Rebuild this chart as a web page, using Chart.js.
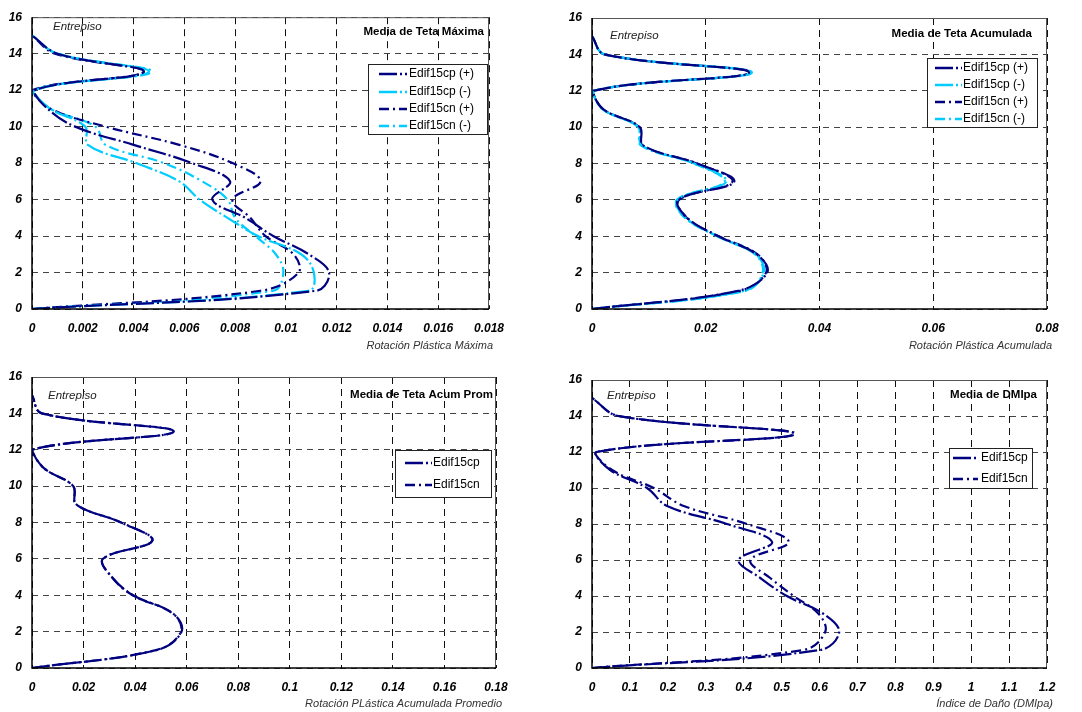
<!DOCTYPE html>
<html><head><meta charset="utf-8">
<script src="https://cdn.jsdelivr.net/npm/chart.js@4.4.1/dist/chart.umd.min.js"></script>
<style>
html,body{margin:0;padding:0;background:#fff;}
#wrap{position:relative;width:1082px;height:712px;overflow:hidden;}
canvas{position:absolute;}
</style></head>
<body><div id="wrap">
<canvas id="c1" width="540" height="356" style="left:0;top:0"></canvas>
<canvas id="c2" width="542" height="356" style="left:540px;top:0"></canvas>
<canvas id="c3" width="540" height="356" style="left:0;top:356px"></canvas>
<canvas id="c4" width="542" height="356" style="left:540px;top:356px"></canvas>
</div>
<script>
// ---- data ----
const stories = [0,1,2,3,4,5,6,7,8,9,10,11,12,13,14,15];
const yTicks = [0,2,4,6,8,10,12,14,16];

// Panel 1: Rotación Plástica Máxima
const tetaMax_cpPos = [0,0.0112,0.0117,0.0109,0.0095,0.0084,0.0071,0.0078,0.0063,0.0040,0.0017,0.0006,0.0001,0.0044,0.0010,0];
const tetaMax_cpNeg = [0,0.0109,0.0111,0.0106,0.0089,0.0077,0.0066,0.0058,0.0041,0.0022,0.0021,0.0007,0.0001,0.0046,0.0010,0];
const tetaMax_cnPos = [0,0.0090,0.0105,0.0103,0.0092,0.0086,0.0079,0.0090,0.0079,0.0058,0.0029,0.0007,0.0000,0.0044,0.0009,0];
const tetaMax_cnNeg = [0,0.0095,0.0099,0.0096,0.0088,0.0080,0.0077,0.0067,0.0052,0.0029,0.0025,0.0007,0.0000,0.0047,0.0010,0];
const xTicks1 = [0,0.002,0.004,0.006,0.008,0.01,0.012,0.014,0.016,0.018];

// Panel 2: Rotación Plástica Acumulada
const tetaAcum_cpPos = [0,0.0257,0.0308,0.0290,0.0222,0.0168,0.0152,0.0250,0.0185,0.0090,0.0084,0.0019,0.0003,0.0276,0.0022,0];
const tetaAcum_cpNeg = [0,0.0268,0.0302,0.0288,0.0220,0.0165,0.0150,0.0236,0.0180,0.0087,0.0082,0.0018,0.0003,0.0280,0.0022,0];
const tetaAcum_cnPos = [0,0.0260,0.0306,0.0291,0.0223,0.0167,0.0153,0.0247,0.0184,0.0089,0.0083,0.0019,0.0003,0.0277,0.0022,0];
const tetaAcum_cnNeg = [0,0.0270,0.0300,0.0287,0.0221,0.0164,0.0149,0.0233,0.0179,0.0086,0.0081,0.0018,0.0003,0.0281,0.0022,0];
const xTicks2 = [0,0.02,0.04,0.06,0.08];

// Panel 3: Rotación PLástica Acumulada Promedio
const tetaProm_cp = [0,0.0487,0.0580,0.0547,0.0392,0.0310,0.0275,0.0467,0.0345,0.0172,0.0160,0.0045,0.0000,0.0550,0.0038,0];
const tetaProm_cn = [0,0.0485,0.0578,0.0546,0.0391,0.0309,0.0276,0.0466,0.0346,0.0171,0.0160,0.0045,0.0000,0.0549,0.0038,0];
const xTicks3 = [0,0.02,0.04,0.06,0.08,0.1,0.12,0.14,0.16,0.18];

// Panel 4: Índice de Daño (DMIpa)
const dmi_cp = [0,0.602,0.652,0.611,0.514,0.444,0.387,0.475,0.356,0.198,0.145,0.048,0.011,0.532,0.070,0];
const dmi_cn = [0,0.558,0.615,0.598,0.532,0.470,0.418,0.519,0.409,0.242,0.163,0.053,0.011,0.536,0.070,0];
const xTicks4 = [0,0.1,0.2,0.3,0.4,0.5,0.6,0.7,0.8,0.9,1,1.1,1.2];

// ---- styling ----
const NAVY = '#000080', CYAN = '#00CCFF';
const FONT = '"Liberation Sans", Arial, sans-serif';
const DASH_CP = [18,3,2,3];
const DASH_CN = [10,4,2,4];

function pts(xs){ return xs.map((x,i)=>({x:x,y:stories[i]})); }
function ds(label, xs, color, dash){
  return {label, data: pts(xs), borderColor: color, backgroundColor: color, borderWidth: 2.2,
    borderDash: dash, showLine: true, pointRadius: 0, tension: 0.38, fill:false};
}
function fmt(v){ return String(Math.round(v*1e6)/1e6); }

const overlay = {
  id:'overlay',
  afterDraw(chart){
    const o = chart.options.plugins.overlay, ctx = chart.ctx, a = chart.chartArea;
    ctx.save();
    ctx.setLineDash([]);
    ctx.strokeStyle = '#555'; ctx.lineWidth = 1;
    ctx.beginPath(); ctx.moveTo(a.left, a.top+0.5); ctx.lineTo(a.right-0.5, a.top+0.5); ctx.lineTo(a.right-0.5, a.bottom); ctx.stroke();
    ctx.strokeStyle = '#000'; ctx.lineWidth = 1.5;
    ctx.beginPath(); ctx.moveTo(a.left, a.top); ctx.lineTo(a.left, a.bottom); ctx.lineTo(a.right, a.bottom); ctx.stroke();
    ctx.fillStyle = '#000';
    ctx.font = 'bold 11.5px ' + FONT; ctx.textAlign = 'right'; ctx.textBaseline = 'middle';
    ctx.fillText(o.title, o.titleX, o.titleY);
    ctx.font = 'italic 11.5px ' + FONT; ctx.textAlign = 'left'; ctx.fillStyle = '#222';
    ctx.fillText('Entrepiso', o.entX, o.entY);
    ctx.font = 'italic 11px ' + FONT; ctx.textAlign = 'right'; ctx.fillStyle = '#333';
    ctx.fillText(o.xTitle, o.xtX, o.xtY);
    const L = o.legend;
    ctx.fillStyle = '#fff'; ctx.fillRect(L.x, L.y, L.w, L.h);
    ctx.strokeStyle = '#222'; ctx.lineWidth = 1;
    ctx.strokeRect(L.x+0.5, L.y+0.5, L.w, L.h);
    ctx.font = '12px ' + FONT; ctx.textAlign = 'left'; ctx.textBaseline = 'middle';
    chart.data.datasets.forEach((d,i)=>{
      const yy = L.rows[i];
      ctx.strokeStyle = d.borderColor; ctx.lineWidth = 2.5; ctx.setLineDash(d.borderDash);
      ctx.beginPath(); ctx.moveTo(L.lx0, yy); ctx.lineTo(L.lx1, yy); ctx.stroke();
      ctx.setLineDash([]);
      ctx.fillStyle = '#000'; ctx.fillText(d.label, L.tx, yy);
    });
    ctx.restore();
  }
};

function makeChart(id, cfg){
  const ticksX = cfg.xTicks;
  new Chart(document.getElementById(id), {
    type:'scatter',
    data:{datasets: cfg.datasets},
    options:{
      responsive:false, animation:false, devicePixelRatio:1,
      layout:{padding:{top:cfg.padTop, right:cfg.padRight, left:0, bottom:0}},
      plugins:{legend:{display:false}, tooltip:{enabled:false}, overlay: cfg.overlay},
      scales:{
        x:{type:'linear', min:0, max:ticksX[ticksX.length-1],
          afterBuildTicks(s){ s.ticks = ticksX.map(v=>({value:v})); },
          afterFit(s){ s.height = cfg.bottomH; },
          grid:{color:'#111', lineWidth:1, drawTicks:false},
          border:{display:false, dash:[7,5]},
          ticks:{padding:12, color:'#000', font:{family:FONT, size:12, weight:'bold', style:'italic'}, callback:(v)=>fmt(v), maxRotation:0, autoSkip:false}
        },
        y:{type:'linear', min:0, max:16,
          afterBuildTicks(s){ s.ticks = yTicks.map(v=>({value:v})); },
          afterFit(s){ s.width = cfg.leftW; },
          grid:{color:'#444', lineWidth:1, drawTicks:false},
          border:{display:false, dash:[6,5]},
          ticks:{padding:10, color:'#000', font:{family:FONT, size:12, weight:'bold', style:'italic'}, callback:(v)=>fmt(v)}
        }
      }
    },
    plugins:[overlay]
  });
}

makeChart('c1', {
  xTicks: xTicks1, padTop:13, padRight:51, bottomH:47, leftW:32,
  datasets:[ds('Edif15cp (+)', tetaMax_cpPos, NAVY, DASH_CP), ds('Edif15cp (-)', tetaMax_cpNeg, CYAN, DASH_CP),
            ds('Edif15cn (+)', tetaMax_cnPos, NAVY, DASH_CN), ds('Edif15cn (-)', tetaMax_cnNeg, CYAN, DASH_CN)],
  overlay:{title:'Media de Teta Máxima', titleX:484, titleY:32, entX:53, entY:27,
    xTitle:'Rotación Plástica Máxima', xtX:493, xtY:346,
    legend:{x:368, y:64, w:119, h:70, lx0:379, lx1:407, tx:409, rows:[74,92,109,126]}}
});
makeChart('c2', {
  xTicks: xTicks2, padTop:18, padRight:35, bottomH:47, leftW:52,
  datasets:[ds('Edif15cp (+)', tetaAcum_cpPos, NAVY, DASH_CP), ds('Edif15cp (-)', tetaAcum_cpNeg, CYAN, DASH_CP),
            ds('Edif15cn (+)', tetaAcum_cnPos, NAVY, DASH_CN), ds('Edif15cn (-)', tetaAcum_cnNeg, CYAN, DASH_CN)],
  overlay:{title:'Media de Teta Acumulada', titleX:492, titleY:34, entX:70, entY:36,
    xTitle:'Rotación Plástica Acumulada', xtX:512, xtY:346,
    legend:{x:387, y:58, w:110, h:69, lx0:395, lx1:422, tx:423, rows:[68,85,102,119]}}
});
makeChart('c3', {
  xTicks: xTicks3, padTop:21, padRight:44, bottomH:44, leftW:32,
  datasets:[ds('Edif15cp', tetaProm_cp, NAVY, DASH_CP), ds('Edif15cn', tetaProm_cn, NAVY, DASH_CN)],
  overlay:{title:'Media de Teta Acum Prom', titleX:493, titleY:39, entX:48, entY:40,
    xTitle:'Rotación PLástica Acumulada Promedio', xtX:502, xtY:348,
    legend:{x:395, y:94, w:96, h:47, lx0:405, lx1:432, tx:433, rows:[107,129]}}
});
makeChart('c4', {
  xTicks: xTicks4, padTop:24, padRight:35, bottomH:44, leftW:52,
  datasets:[ds('Edif15cp', dmi_cp, NAVY, DASH_CP), ds('Edif15cn', dmi_cn, NAVY, DASH_CN)],
  overlay:{title:'Media de DMIpa', titleX:497, titleY:39, entX:67, entY:40,
    xTitle:'Índice de Daño (DMIpa)', xtX:513, xtY:348,
    legend:{x:409, y:92, w:83, h:40, lx0:413, lx1:438, tx:441, rows:[102,123]}}
});
</script>
</body></html>
